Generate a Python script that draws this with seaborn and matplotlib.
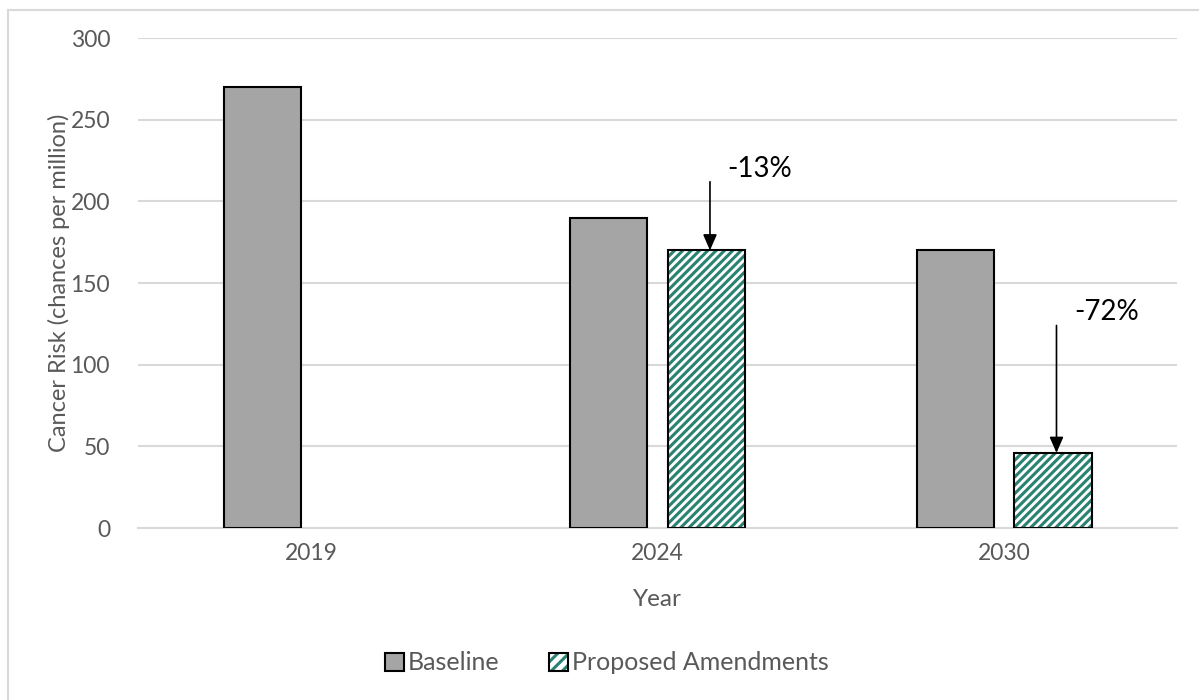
import numpy as np
import pandas as pd
import matplotlib
matplotlib.use("Agg")
import matplotlib.pyplot as plt
from matplotlib.patches import Patch, Rectangle
from matplotlib.lines import Line2D
from matplotlib.legend_handler import HandlerTuple
import seaborn as sns

# Data
years = ["2019", "2024", "2030"]
baseline = [270, 190, 170]
proposed = [np.nan, 170, 46]
series_names = ["Baseline", "Proposed Amendments"]
change_labels = [None, "-13%", "-72%"]
arrow_start = [None, 212, 124]

df = pd.DataFrame({
    "Year": years * 2,
    "Risk": baseline + proposed,
    "Scenario": [series_names[0]] * 3 + [series_names[1]] * 3,
})

sns.set_theme(style="white")
plt.rcParams["font.family"] = ["Lato", "DejaVu Sans"]
plt.rcParams["hatch.linewidth"] = 2.2

GRAY = "#a5a5a5"
TEAL = "#2a8272"
TEXT = "#595959"
GRID = "#d9d9d9"
HATCH = "////"

fig = plt.figure(figsize=(11.99, 7.0), dpi=100)
ax = fig.add_axes([0.115, 0.2457, 0.867, 0.70])

sns.barplot(data=df, x="Year", y="Risk", hue="Scenario", order=years,
            hue_order=series_names, palette=[GRAY, "white"],
            width=0.564, gap=0.21, edgecolor="black", linewidth=1.5,
            legend=False, ax=ax, zorder=3)

# Hatch the proposed-amendment bars in teal, redraw a black outline,
# and add the percentage-change arrow above each one
for bar in ax.containers[1]:
    h = bar.get_height()
    if np.isnan(h) or h == 0:
        continue
    xc = bar.get_x() + bar.get_width() / 2
    i = int(round(xc))
    bar.set_edgecolor(TEAL)
    bar.set_hatch(HATCH)
    bar.set_linewidth(0)
    ax.add_patch(Rectangle(bar.get_xy(), bar.get_width(), h,
                           fill=False, edgecolor="black", linewidth=1.5,
                           zorder=4))
    if change_labels[i] is None:
        continue
    xa = xc + 0.01
    ax.annotate("", xy=(xa, proposed[i]), xytext=(xa, arrow_start[i]),
                arrowprops=dict(arrowstyle="-|>,head_length=0.8,head_width=0.35",
                                color="black", lw=1.2, shrinkA=0, shrinkB=0),
                zorder=5)
    ax.text(xa + 0.05, arrow_start[i] + 8, change_labels[i], fontsize=20,
            color="black", ha="left", va="center")

ax.set_xlim(-0.5, 2.5)
ax.set_ylim(0, 300)
ax.set_yticks(range(0, 301, 50))
ax.yaxis.grid(True, color=GRID, linewidth=1.5, zorder=0)
ax.set_axisbelow(True)
for side in ["top", "right", "left"]:
    ax.spines[side].set_visible(False)
ax.spines["bottom"].set_color(GRID)
ax.spines["bottom"].set_linewidth(1.5)
ax.tick_params(axis="both", length=0, labelsize=16.5, labelcolor=TEXT)
ax.tick_params(axis="y", pad=20)
ax.tick_params(axis="x", pad=11)
ax.set_xlabel("Year", fontsize=17.5, color=TEXT, labelpad=18)
ax.set_ylabel("Cancer Risk (chances per million)", fontsize=17, color=TEXT,
              labelpad=0)

# Legend
h_base = Patch(facecolor=GRAY, edgecolor="black", linewidth=1.5)
h_prop = (Patch(facecolor="white", edgecolor=TEAL, hatch="///", linewidth=0),
          Patch(fill=False, edgecolor="black", linewidth=1.5))
fig.legend([h_base, h_prop], series_names, loc="center",
           bbox_to_anchor=(0.506, 0.053), ncol=2, frameon=False,
           fontsize=18, labelcolor=TEXT, handlelength=0.75, handleheight=0.75,
           handletextpad=0.15, columnspacing=2.0,
           handler_map={tuple: HandlerTuple(ndivide=1)})

# Light frame along the top and left edges
fig.add_artist(Line2D([8 / 1199, 8 / 1199], [0, 1 - 10 / 700],
                      transform=fig.transFigure, color=GRID, linewidth=1.5))
fig.add_artist(Line2D([8 / 1199, 1], [1 - 10 / 700, 1 - 10 / 700],
                      transform=fig.transFigure, color=GRID, linewidth=1.5))

fig.savefig("out.png", dpi=100, facecolor="white")
